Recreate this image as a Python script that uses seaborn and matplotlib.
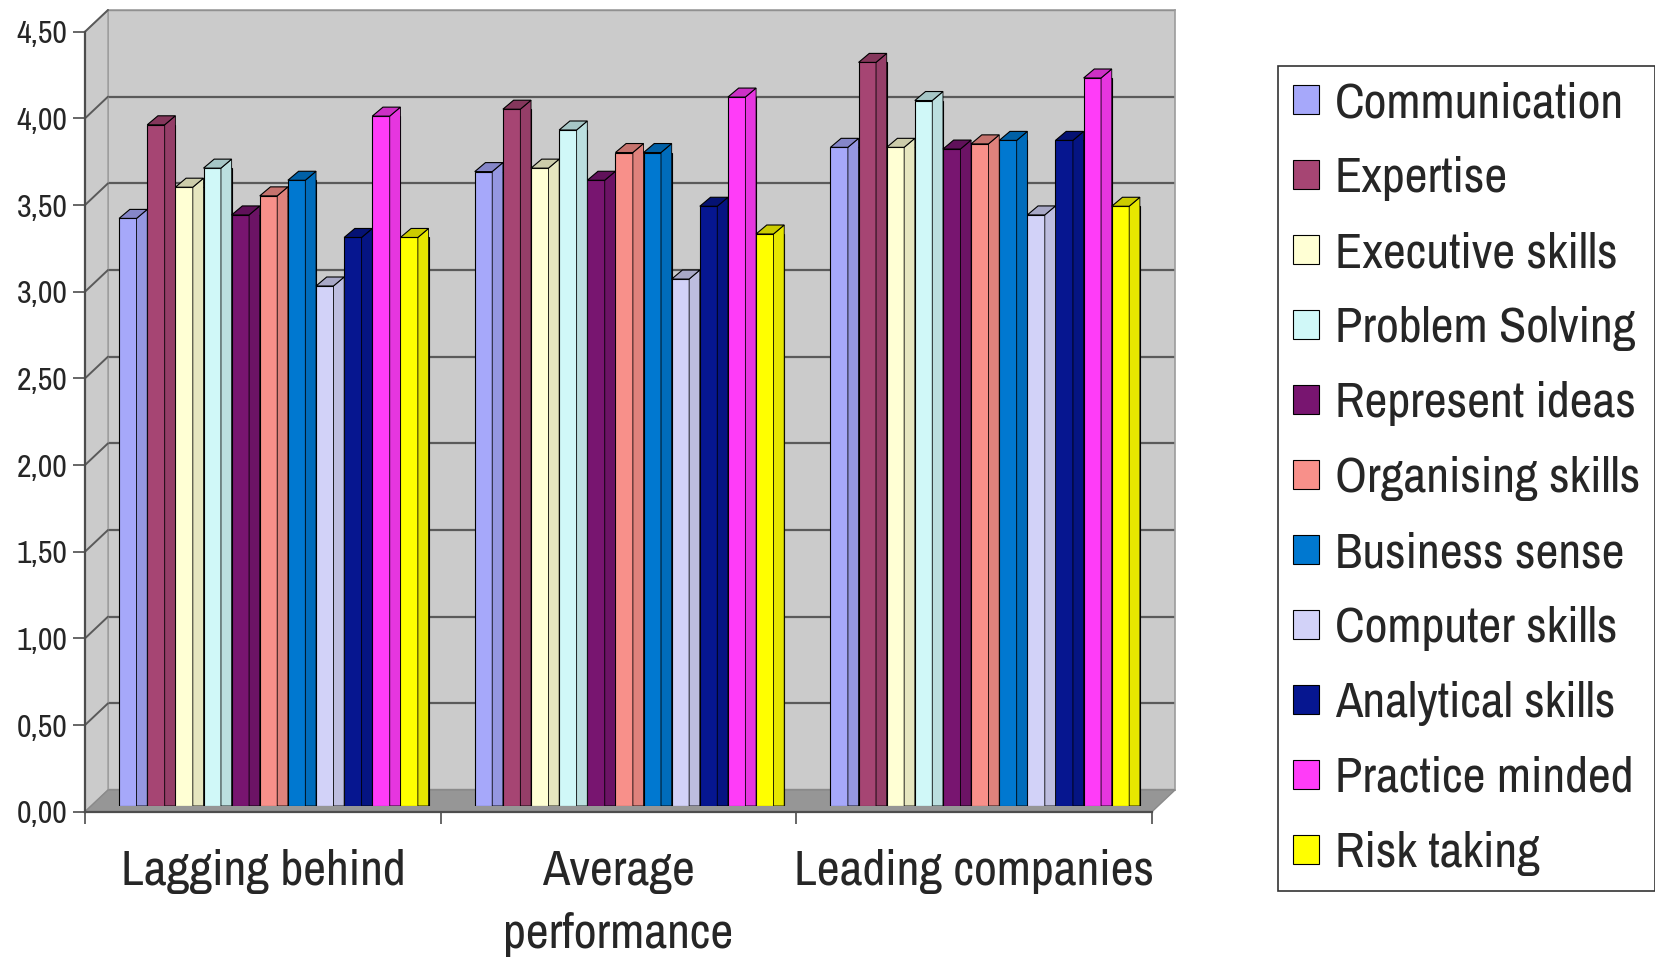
import numpy as np
import pandas as pd
import matplotlib
matplotlib.use("Agg")
import matplotlib.pyplot as plt
from matplotlib.patches import Polygon
from matplotlib.lines import Line2D
from matplotlib.ticker import FuncFormatter
import matplotlib.colors as mcolors
import seaborn as sns

# ---- data -------------------------------------------------------------
groups = ["Lagging behind", "Average\nperformance", "Leading companies"]
skills = ["Communication", "Expertise", "Executive skills", "Problem Solving",
          "Represent ideas", "Organising skills", "Business sense",
          "Computer skills", "Analytical skills", "Practice minded", "Risk taking"]
lagging = [3.39, 3.93, 3.57, 3.68, 3.41, 3.52, 3.61, 3.00, 3.28, 3.98, 3.28]
average = [3.66, 4.02, 3.68, 3.90, 3.61, 3.77, 3.77, 3.04, 3.46, 4.09, 3.30]
leading = [3.80, 4.29, 3.80, 4.07, 3.79, 3.82, 3.84, 3.41, 3.84, 4.20, 3.46]
skill_colors = ["#A6A8FA", "#A64573", "#FFFFD4", "#D0F8F8", "#781570", "#F8908A",
                "#0078D0", "#D2D2F8", "#061690", "#FF3CF8", "#FFFF00"]
y_ticks = [0.0, 0.5, 1.0, 1.5, 2.0, 2.5, 3.0, 3.5, 4.0, 4.5]

df = pd.DataFrame({
    "group": np.repeat(groups, len(skills)),
    "skill": skills * len(groups),
    "score": lagging + average + leading,
})

# ---- style ------------------------------------------------------------
sns.set_style("white")
plt.rcParams["font.family"] = ["Arial Narrow", "Liberation Sans Narrow", "Nimbus Sans Narrow",
                               "Archivo Narrow", "Roboto Condensed",
                               "IBM Plex Sans Condensed", "DejaVu Sans"]

W, H = 1655, 959
fig = plt.figure(figsize=(W / 100, H / 100), dpi=100)


def fx(px):
    return px / W


def fy(py):
    return 1 - py / H


def box(left, right, top, bottom):
    return [fx(left), fy(bottom), fx(right) - fx(left), fy(top) - fy(bottom)]


YMAX = 4.5
# front frame, back wall and bar plane (pixel geometry of the oblique box)
FL, FR, FT, FB = 85, 1152, 31.7, 811.7
BL, BR, BT, BB = 108, 1175, 10, 790
PL, PR, PT, PB = 96, 1163, 26, 806

# back wall
ax_back = fig.add_axes(box(BL, BR, BT, BB))
ax_back.set_facecolor("#CBCBCB")
ax_back.set_xlim(-0.5, 2.5)
ax_back.set_ylim(0, YMAX)
ax_back.set_xticks([])
ax_back.set_yticks(y_ticks)
ax_back.tick_params(length=0, labelleft=False)
ax_back.grid(axis="y", color="#5A5A5A", linewidth=1.6)
for s in ax_back.spines.values():
    s.set_color("#9C9C9C")
    s.set_linewidth(1.2)
ax_back.set_zorder(0)

# side wall and floor
left_wall = Polygon([(fx(FL), fy(FT)), (fx(BL), fy(BT)), (fx(BL), fy(BB)), (fx(FL), fy(FB))],
                    closed=True, transform=fig.transFigure, facecolor="#CBCBCB",
                    edgecolor="#9C9C9C", linewidth=1.0, zorder=0.5)
floor = Polygon([(fx(FL), fy(FB)), (fx(BL), fy(BB)), (fx(BR), fy(BB)), (fx(FR), fy(FB))],
                closed=True, transform=fig.transFigure, facecolor="#969696",
                edgecolor="#8A8A8A", linewidth=1.0, zorder=0.5)
fig.add_artist(left_wall)
fig.add_artist(floor)
for v in y_ticks[1:]:
    yf = FB - v * (FB - FT) / YMAX
    yb = BB - v * (BB - BT) / YMAX
    fig.add_artist(Line2D([fx(FL), fx(BL)], [fy(yf), fy(yb)], transform=fig.transFigure,
                          color="#5A5A5A", linewidth=1.4, zorder=0.6))

# front axes: value axis and category axis
ax = fig.add_axes(box(FL, FR, FT, FB))
ax.patch.set_visible(False)
ax.set_xlim(-0.5, 2.5)
ax.set_ylim(0, YMAX)
ax.set_yticks(y_ticks)
ax.yaxis.set_major_formatter(FuncFormatter(lambda v, p: f"{v:.2f}".replace(".", ",")))
ax.set_xticks([-0.5, 0.5, 1.5, 2.5])
ax.set_xticklabels([])
ax.set_xticks([0, 1, 2], minor=True)
ax.set_xticklabels(groups, minor=True, fontsize=36, linespacing=1.5)
ax.tick_params(axis="y", direction="out", length=8.6, width=1.2, color="#4D4D4D",
               labelsize=23, pad=4, left=True)
ax.tick_params(axis="x", which="major", direction="out", length=8.6, width=1.2,
               color="#4D4D4D", bottom=True)
ax.tick_params(axis="x", which="minor", length=0, pad=27)
for side in ("top", "right"):
    ax.spines[side].set_visible(False)
for side in ("left", "bottom"):
    ax.spines[side].set_color("#4D4D4D")
    ax.spines[side].set_linewidth(1.6)
ax.set_xlabel("")
ax.set_ylabel("")
ax.set_zorder(1)

# bars
axb = fig.add_axes(box(PL, PR, PT, PB))
axb.set_zorder(2)
sns.barplot(data=df, x="group", y="score", hue="skill", order=groups, hue_order=skills,
            palette=skill_colors, saturation=1, width=0.87, gap=0,
            edgecolor="black", linewidth=0.8, errorbar=None, ax=axb)
axb.set_xlim(-0.5, 2.5)
axb.set_ylim(0, YMAX)
axb.axis("off")

# shade a side face and a top cap on every column
cap_h = 9 * YMAX / (PB - PT)
for color, cont in zip(skill_colors, axb.containers):
    rgb = np.array(mcolors.to_rgb(color))
    for rect in cont:
        x0, w, h = rect.get_x(), rect.get_width(), rect.get_height()
        xm = x0 + 0.62 * w
        x1 = x0 + w
        side = Polygon([(xm, 0), (xm, h), (x1, h + cap_h), (x1, 0)], closed=True,
                       facecolor=rgb * 0.9, edgecolor="black", linewidth=0.6, zorder=3)
        cap = Polygon([(x0, h), (xm, h), (x1, h + cap_h), (x0 + 0.38 * w, h + cap_h)],
                      closed=True, facecolor=rgb * 0.8, edgecolor="black",
                      linewidth=0.8, zorder=4)
        axb.add_patch(side)
        axb.add_patch(cap)

# legend
old = axb.get_legend()
handles = old.legend_handles
labels = [t.get_text() for t in old.get_texts()]
old.remove()
leg = fig.legend(handles, labels, loc="upper left", bbox_to_anchor=(fx(1278), fy(66)),
                 bbox_transform=fig.transFigure, borderaxespad=0, fontsize=36,
                 handlelength=0.52, handleheight=0.52, handletextpad=0.32,
                 labelspacing=0.6, borderpad=0.3, fancybox=False, framealpha=1,
                 edgecolor="#333333")
leg.get_frame().set_linewidth(1.2)

fig.savefig("out.png", dpi=100)
